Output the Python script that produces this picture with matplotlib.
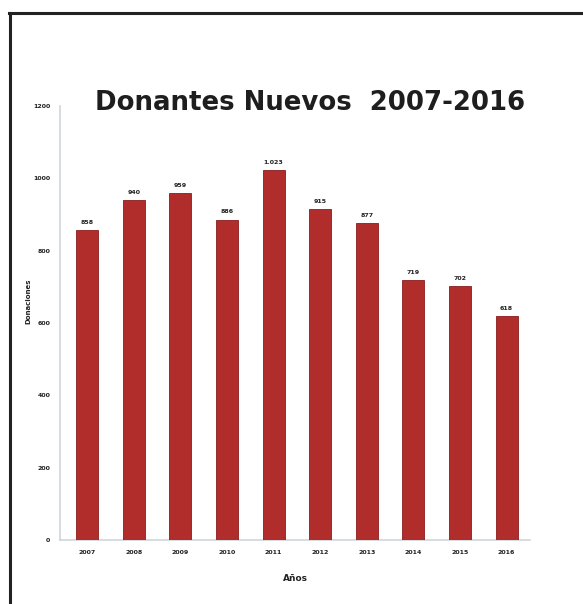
import matplotlib
matplotlib.use("Agg")
import matplotlib.pyplot as plt
from matplotlib.lines import Line2D

years = ["2007", "2008", "2009", "2010", "2011", "2012", "2013", "2014", "2015", "2016"]
donations = [858, 940, 959, 886, 1023, 915, 877, 719, 702, 618]
yticks = [0, 200, 400, 600, 800, 1000, 1200]

fig = plt.figure(figsize=(5.83, 6.04), dpi=100)
fig.patch.set_facecolor("white")
ax = fig.add_axes([0.103, 0.106, 0.806, 0.7185])

x = list(range(len(years)))
bars = ax.bar(x, donations, width=0.47, color="#b02d2c", edgecolor="#8a1d1d", linewidth=0.6, zorder=3)

for xi, v in zip(x, donations):
    lab = f"{v:,}".replace(",", ".")
    ax.text(xi, v + 14, lab, ha="center", va="bottom", fontsize=4.5, fontweight="bold", color="#222222")

ax.set_xlim(-0.58, len(years) - 1 + 0.5)
ax.set_ylim(0, 1200)
ax.set_xticks(x)
ax.set_xticklabels(years, fontsize=4.5, fontweight="bold", color="#222222")
ax.set_yticks(yticks)
ax.set_yticklabels([str(t) for t in yticks], fontsize=4.5, fontweight="bold", color="#222222")
ax.tick_params(length=0, pad=7)

for s in ["top", "right"]:
    ax.spines[s].set_visible(False)
for s in ["left", "bottom"]:
    ax.spines[s].set_color("#cfd6dc")
    ax.spines[s].set_linewidth(1.2)

ax.set_xlabel("Años", fontsize=6.5, fontweight="bold", color="#222222", labelpad=14)
ax.set_ylabel("Donaciones", fontsize=5, fontweight="bold", color="#222222")
ax.yaxis.set_label_coords(-0.062, 0.55)

fig.text(0.532, 0.829, "Donantes Nuevos  2007-2016", ha="center", va="center",
         fontsize=18.7, fontweight="bold", color="#1e1e1e")

# frame border
fig.add_artist(Line2D([0.016, 1.0], [0.979, 0.979], transform=fig.transFigure, color="#222222", linewidth=2.2))
fig.add_artist(Line2D([0.017, 0.017], [0.0, 0.979], transform=fig.transFigure, color="#222222", linewidth=2.2))

fig.savefig("out.png", dpi=100)
